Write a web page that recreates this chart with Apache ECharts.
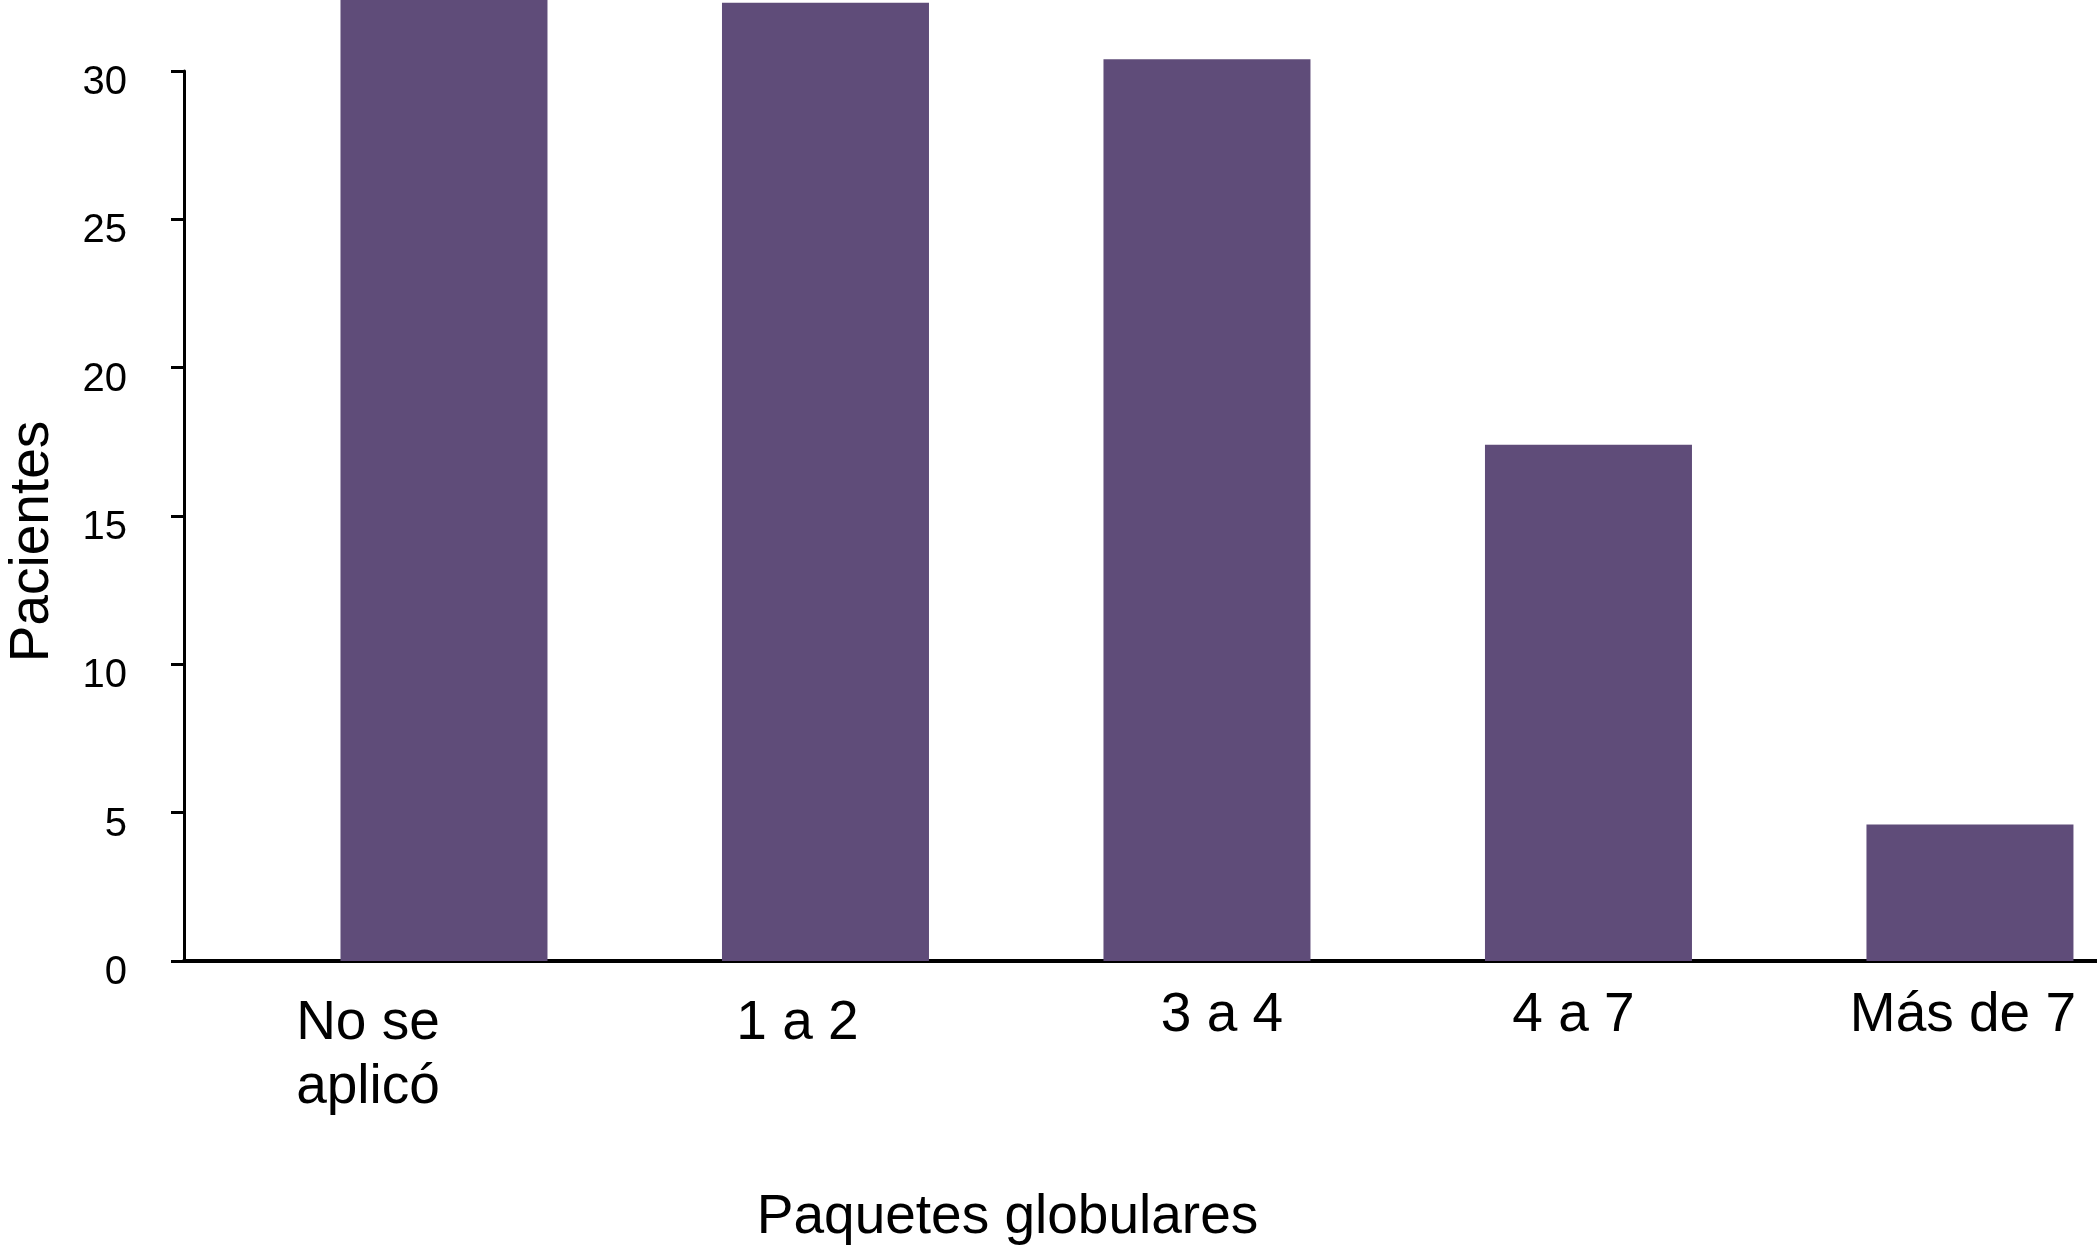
<!DOCTYPE html>
<html>
<head>
<meta charset="utf-8">
<script src="https://cdn.jsdelivr.net/npm/echarts@6/dist/echarts.min.js"></script>
<style>
html,body{margin:0;padding:0;background:#fff;}
#chart{width:2097px;height:1247px;}
</style>
</head>
<body>
<div id="chart"></div>
<script>
// ---- data ----
const categories = ['No se\naplicó', '1 a 2', '3 a 4', '4 a 7', 'Más de 7'];
const pacientes = [34, 32.3, 30.4, 17.4, 4.6];
const yTicks = [0, 5, 10, 15, 20, 25, 30];
const xTitle = 'Paquetes globulares';
const yTitle = 'Pacientes';

// per-label nudges (style only)
const labelShift = [152, 56, -30, 30, 14];
const labelLineHeight = [64, 64, 48, 48, 48];

const FONT = '"Liberation Sans", Arial, Helvetica, sans-serif';
const rich = {};
labelShift.forEach((s, i) => {
  rich['o' + i] = {
    fontSize: 55, fontFamily: FONT, color: '#000', lineHeight: labelLineHeight[i],
    padding: s >= 0 ? [0, s, 0, 0] : [0, 0, 0, -s]
  };
});

const chart = echarts.init(document.getElementById('chart'));
chart.setOption({
  animation: false,
  backgroundColor: '#ffffff',
  grid: { left: 184, right: 0, top: 71, bottom: 286, containLabel: false, outerBoundsMode: 'none' },
  xAxis: {
    type: 'value',
    min: -0.6815,
    max: 4.333,
    splitLine: { show: false },
    axisLine: { show: true, onZero: false, lineStyle: { color: '#000', width: 4 } },
    axisTick: { show: false },
    axisLabel: {
      customValues: categories.map((c, i) => i),
      margin: 31,
      verticalAlign: 'top',
      formatter: function (v) {
        const i = Math.round(v);
        return categories[i].split('\n').map(t => '{o' + i + '|' + t + '}').join('\n');
      },
      rich: rich
    },
    name: xTitle,
    nameLocation: 'middle',
    nameGap: 229,
    nameTextStyle: { fontSize: 55, fontFamily: FONT, color: '#000', padding: [0, 266, 0, 0] }
  },
  yAxis: {
    type: 'value',
    min: 0,
    max: 30,
    interval: 5,
    splitLine: { show: false },
    axisLine: { show: true, onZero: false, lineStyle: { color: '#000', width: 3 } },
    axisTick: { show: true, length: 13, customValues: yTicks, lineStyle: { color: '#000', width: 3 } },
    axisLabel: {
      customValues: yTicks,
      margin: 57,
      fontSize: 40,
      fontFamily: FONT,
      color: '#000',
      verticalAlign: 'top',
      lineHeight: 24
    },
    name: yTitle,
    nameLocation: 'middle',
    nameGap: 124,
    nameRotate: 90,
    nameTextStyle: { fontSize: 55, fontFamily: FONT, color: '#000', padding: [0, 51, 0, 0] }
  },
  series: [{
    type: 'bar',
    barWidth: 207,
    clip: false,
    itemStyle: { color: '#5F4C79' },
    data: pacientes.map((v, i) => [i, v]),
    z: 1
  }]
});
</script>
</body>
</html>
